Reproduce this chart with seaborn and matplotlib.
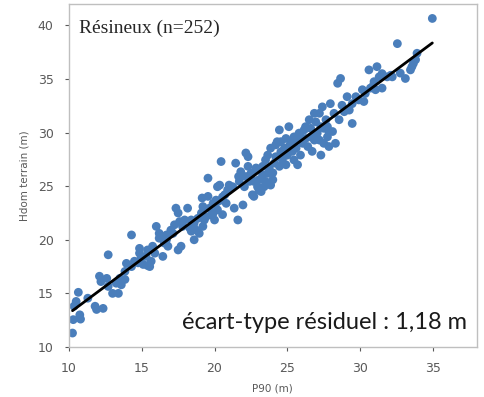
import matplotlib
matplotlib.use("Agg")
import matplotlib.pyplot as plt
import seaborn as sns
import pandas as pd

p90 = [10.25, 10.3, 10.75, 10.8, 10.5, 10.65, 10.35, 11.3, 11.8, 11.9, 12.35, 12.1, 12.2, 12.6, 12.7, 12.7,
       13.0, 13.25, 13.4, 13.5, 13.6, 13.85, 13.95, 13.85, 14.3, 14.3, 14.5, 14.75, 14.85, 14.95, 15.1, 15.3,
       15.4, 15.55, 15.65, 15.75, 15.9, 16.0, 16.2, 16.45, 16.55, 16.7, 16.8, 17.0, 17.15, 17.25, 17.35, 17.5,
       17.5, 17.7, 17.6, 17.8, 17.95, 18.15, 18.3, 18.4, 18.4, 18.6, 18.6, 18.75, 18.85, 18.95, 19.1, 19.15,
       19.2, 19.3, 19.4, 19.55, 19.65, 19.75, 19.9, 20.0, 20.1, 20.2, 20.2, 20.35, 20.45, 20.45, 20.55, 20.7,
       20.8, 20.9, 21.0, 21.25, 21.35, 21.45, 21.6, 21.65, 21.7, 21.8, 21.95, 22.05, 22.15, 22.15, 22.3, 22.4,
       22.5, 22.6, 22.7, 22.7, 22.85, 22.95, 23.05, 23.2, 23.3, 23.4, 23.5, 23.5, 23.65, 23.75, 23.85, 23.85,
       24.0, 24.1, 24.2, 24.3, 24.45, 24.45, 24.55, 24.65, 24.8, 24.9, 24.9, 25.0, 25.1, 25.25, 25.35, 25.45,
       25.6, 25.7, 25.8, 25.9, 26.05, 26.15, 26.25, 26.4, 26.5, 26.6, 26.7, 26.85, 26.95, 27.05, 27.2, 27.3,
       27.4, 27.5, 27.5, 27.65, 27.75, 27.85, 27.95, 28.1, 28.2, 28.3, 28.45, 28.55, 28.65, 28.75, 28.9, 29.1,
       29.25, 29.45, 29.45, 29.9, 30.15, 30.25, 30.6, 30.7, 30.95, 31.05, 31.15, 31.3, 31.5, 31.85, 32.1, 32.55,
       32.75, 33.1, 33.55, 33.65, 33.9, 34.95,
       19.2, 19.55, 19.9, 20.2, 20.55, 14.85, 15.4, 16.2, 16.7,
       22.3, 22.6, 23.3, 23.65, 24.0, 23.05,
       24.2, 24.55, 24.65, 24.9, 25.1, 25.35, 25.45, 25.7, 25.9,
       26.25, 26.6, 26.85, 27.2, 27.3, 27.75, 27.85,
       29.7, 30.35, 30.85, 31.5, 32.2, 33.8, 33.45]

hdom = [11.3, 12.55, 13.0, 12.6, 14.25, 15.1, 13.8, 14.55, 13.8, 13.5, 13.6, 16.6, 16.1, 16.4, 18.6, 15.65,
        15.0, 15.95, 15.0, 16.4, 15.8, 16.3, 17.8, 17.05, 20.45, 17.5, 18.0, 17.85, 19.2, 18.3, 17.7, 18.45,
        19.05, 17.5, 18.0, 19.4, 18.75, 21.25, 20.15, 18.45, 19.7, 20.45, 19.4, 20.9, 20.6, 21.4, 22.95, 22.5,
        19.05, 19.4, 21.7, 21.25, 21.85, 22.95, 21.1, 21.85, 20.8, 21.55, 20.0, 20.9, 22.0, 20.6, 22.5, 23.9,
        21.25, 21.85, 22.15, 25.75, 22.95, 22.3, 23.4, 21.85, 23.7, 24.95, 22.8, 25.1, 27.3, 23.7, 22.35, 24.2,
        23.4, 24.65, 25.1, 24.95, 22.95, 27.15, 21.85, 25.9, 25.45, 26.35, 23.25, 24.95, 28.1, 25.9, 26.85, 25.45,
        26.2, 24.2, 24.05, 25.45, 26.7, 24.95, 25.6, 24.5, 26.05, 24.95, 27.45, 25.45, 27.9, 26.7, 28.55, 25.1,
        26.25, 27.15, 27.75, 29.15, 30.25, 26.85, 28.2, 27.45, 28.55, 29.45, 27.0, 27.9, 30.55, 29.0, 28.25, 29.6,
        28.55, 27.0, 29.95, 27.9, 29.0, 30.25, 29.45, 28.7, 31.2, 30.4, 28.25, 29.3, 31.0, 29.95, 31.8, 27.9,
        32.4, 30.4, 29.0, 31.2, 29.6, 28.7, 32.7, 30.1, 31.8, 29.0, 34.6, 31.2, 35.05, 32.55, 31.95, 33.35,
        32.1, 30.85, 32.7, 33.05, 34.0, 32.9, 35.85, 34.15, 34.75, 34.0, 36.15, 35.2, 34.15, 35.2, 35.35, 38.3,
        35.55, 35.05, 36.15, 36.45, 37.4, 40.65,
        23.1, 24.05, 22.45, 23.55, 24.0, 18.75, 17.6, 20.6, 20.0,
        27.75, 26.2, 26.85, 26.2, 25.6, 24.65,
        28.85, 29.15, 28.2, 27.9, 28.7, 29.3, 27.45, 29.3, 29.6,
        30.55, 29.6, 31.8, 29.3, 30.55, 30.55, 30.1,
        33.35, 33.65, 34.3, 35.5, 35.2, 36.8, 35.85]

x_ticks = [10, 15, 20, 25, 30, 35]
y_ticks = [10, 15, 20, 25, 30, 35, 40]
title_text = "Résineux (n=252)"
resid_text = "écart-type résiduel : 1,18 m"

df = pd.DataFrame({"P90 (m)": p90, "Hdom terrain (m)": hdom})

sns.set_theme(style="white")
plt.rcParams['font.family'] = ['DejaVu Sans']

fig = plt.figure(figsize=(4.85, 3.97), dpi=100)
ax = fig.add_axes([0.142, 0.126, 0.841, 0.864])

sns.regplot(data=df, x="P90 (m)", y="Hdom terrain (m)", ax=ax, ci=None,
            scatter_kws=dict(s=40, color="#4a7ebb", edgecolor="none", alpha=1),
            line_kws=dict(color="black", lw=2))

ax.set_xlim(10, 38)
ax.set_ylim(10, 42)
ax.set_xticks(x_ticks)
ax.set_yticks(y_ticks)
ax.tick_params(axis="both", labelsize=9, colors="#595959", length=3, width=0.8, direction="out",
               bottom=True, left=True)
ax.tick_params(axis="x", pad=8)
ax.tick_params(axis="y", pad=8)
for s in ax.spines.values():
    s.set_color("#bfbfbf")
    s.set_linewidth(1)
ax.set_xlabel("P90 (m)", fontsize=7.5, color="#595959", labelpad=6)
ax.set_ylabel("Hdom terrain (m)", fontsize=7.5, color="#595959", labelpad=6)

ax.text(0.025, 0.955, title_text, transform=ax.transAxes, ha="left", va="top",
        fontsize=14, color="#262626", family=["Liberation Serif"])
ax.text(0.975, 0.04, resid_text, transform=ax.transAxes, ha="right", va="bottom",
        fontsize=17, color="#1a1a1a", family=["Lato", "DejaVu Sans"])

fig.savefig("out.png", dpi=100)
